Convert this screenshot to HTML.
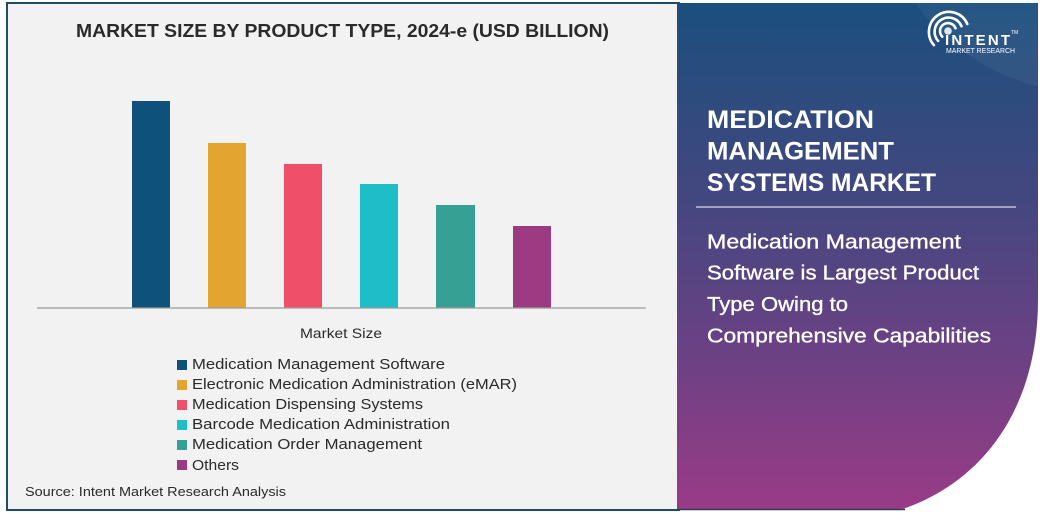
<!DOCTYPE html>
<html>
<head>
<meta charset="utf-8">
<style>
  html,body{margin:0;padding:0;background:#ffffff;}
  svg{display:block;}
  text{font-family:"Liberation Sans",sans-serif;}
</style>
</head>
<body>
<svg width="1043" height="513" viewBox="0 0 1043 513" xmlns="http://www.w3.org/2000/svg">
  <defs>
    <linearGradient id="pg" x1="0" y1="0" x2="0" y2="1">
      <stop offset="0" stop-color="#1a4f7e"/>
      <stop offset="0.4" stop-color="#45477f"/>
      <stop offset="0.7" stop-color="#6c4184"/>
      <stop offset="1" stop-color="#9a3b86"/>
    </linearGradient>
    <clipPath id="pc">
      <path d="M677,3 L1038,3 L1038,300 C1038,400 990,480 900,510 L677,510 Z"/>
    </clipPath>
  </defs>

  <rect x="0" y="0" width="1043" height="513" fill="#ffffff"/>

  <!-- left panel -->
  <rect x="7" y="3" width="672" height="507" fill="#f2f2f2" stroke="#1e4c66" stroke-width="2"/>

  <text x="342.5" y="37" text-anchor="middle" font-size="18" font-weight="bold" fill="#2a2a2a" textLength="533" lengthAdjust="spacingAndGlyphs">MARKET SIZE BY PRODUCT TYPE, 2024-e (USD BILLION)</text>

  <!-- bars -->
  <rect x="132" y="101" width="38" height="206.5" fill="#0e527c"/>
  <rect x="208" y="143" width="38" height="164.5" fill="#e3a530"/>
  <rect x="284" y="164" width="38" height="143.5" fill="#ef4f68"/>
  <rect x="360" y="184" width="38" height="123.5" fill="#1dbec8"/>
  <rect x="436" y="205" width="39" height="102.5" fill="#36a094"/>
  <rect x="513" y="226" width="38" height="81.5" fill="#9c3b82"/>
  <line x1="37" y1="308" x2="646" y2="308" stroke="#9a9a9a" stroke-width="1.2"/>

  <text x="341" y="338" text-anchor="middle" font-size="14" fill="#2a2a2a" textLength="82" lengthAdjust="spacingAndGlyphs">Market Size</text>

  <!-- legend -->
  <rect x="177" y="360" width="10" height="10" fill="#0e527c"/>
  <rect x="177" y="380" width="10" height="10" fill="#e3a530"/>
  <rect x="177" y="400" width="10" height="10" fill="#ef4f68"/>
  <rect x="177" y="420" width="10" height="10" fill="#1dbec8"/>
  <rect x="177" y="440" width="10" height="10" fill="#36a094"/>
  <rect x="177" y="460" width="10" height="10" fill="#9c3b82"/>
  <g font-size="15" fill="#2a2a2a">
    <text x="192" y="369" textLength="253" lengthAdjust="spacingAndGlyphs">Medication Management Software</text>
    <text x="192" y="389" textLength="325" lengthAdjust="spacingAndGlyphs">Electronic Medication Administration (eMAR)</text>
    <text x="192" y="409" textLength="231" lengthAdjust="spacingAndGlyphs">Medication Dispensing Systems</text>
    <text x="192" y="429" textLength="258" lengthAdjust="spacingAndGlyphs">Barcode Medication Administration</text>
    <text x="192" y="449" textLength="230" lengthAdjust="spacingAndGlyphs">Medication Order Management</text>
    <text x="192" y="470" textLength="47" lengthAdjust="spacingAndGlyphs">Others</text>
  </g>

  <text x="25" y="496" font-size="13" fill="#2a2a2a" textLength="261" lengthAdjust="spacingAndGlyphs">Source: Intent Market Research Analysis</text>

  <!-- right panel -->
  <path d="M677,3 L1038,3 L1038,300 C1038,400 990,480 900,510 L677,510 Z" fill="url(#pg)"/>
  <g clip-path="url(#pc)">
    <ellipse cx="1090" cy="-135" rx="220" ry="228" fill="#ffffff" fill-opacity="0.05"/>
  </g>
  <line x1="677" y1="509.5" x2="905" y2="509.5" stroke="#2a3f60" stroke-width="1.5"/>

  <!-- logo -->
  <g fill="none" stroke="#ffffff" stroke-linecap="round" stroke-width="2.6">
    <path d="M942.3,36.7 A8,8 0 1 1 955.5,28.3"/>
    <path d="M938.1,40.9 A14,14 0 1 1 961.5,26.2"/>
    <path d="M933.9,45.1 A20,20 0 1 1 967.3,24"/>
  </g>
  <circle cx="948" cy="31" r="3.8" fill="#ffffff" fill-opacity="0.85"/>
  <text x="945" y="45" font-size="15" font-weight="bold" fill="#ffffff" textLength="65" lengthAdjust="spacing">INTENT</text>
  <text x="1011" y="34" font-size="5" fill="#ffffff">TM</text>
  <text x="946" y="53" font-size="7.5" fill="#ffffff" textLength="69" lengthAdjust="spacingAndGlyphs">MARKET RESEARCH</text>

  <!-- headline -->
  <g font-size="25" font-weight="bold" fill="#ffffff">
    <text x="707" y="128" textLength="167" lengthAdjust="spacingAndGlyphs">MEDICATION</text>
    <text x="707" y="159.5" textLength="187" lengthAdjust="spacingAndGlyphs">MANAGEMENT</text>
    <text x="707" y="191" textLength="229" lengthAdjust="spacingAndGlyphs">SYSTEMS MARKET</text>
  </g>
  <line x1="696" y1="207" x2="1016" y2="207" stroke="#ffffff" stroke-width="1"/>

  <g font-size="20" fill="#ffffff" stroke="#ffffff" stroke-width="0.35">
    <text x="707" y="248.5" textLength="254" lengthAdjust="spacingAndGlyphs">Medication Management</text>
    <text x="707" y="279.5" textLength="272" lengthAdjust="spacingAndGlyphs">Software is Largest Product</text>
    <text x="707" y="311" textLength="141" lengthAdjust="spacingAndGlyphs">Type Owing to</text>
    <text x="707" y="342.5" textLength="284" lengthAdjust="spacingAndGlyphs">Comprehensive Capabilities</text>
  </g>
</svg>
</body>
</html>
